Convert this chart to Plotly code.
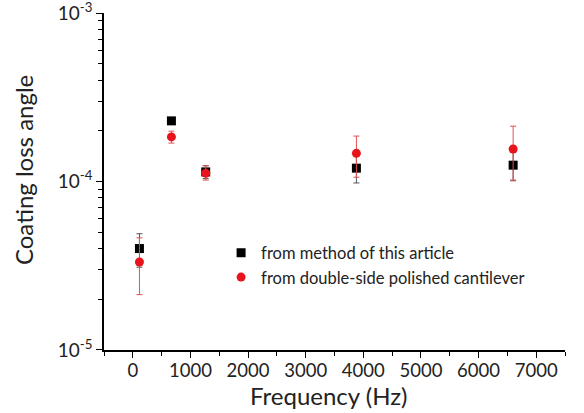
import plotly.graph_objects as go

# frecuencias (Hz) y ángulos de pérdida
freq_metodo = [115, 670, 1265, 3880, 6600]
perdida_metodo = [4.0e-5, 2.29e-4, 1.14e-4, 1.20e-4, 1.25e-4]
err_metodo = [0.9e-5, 0.0, 0.1e-4, 0.22e-4, 0.24e-4]

freq_cantilever = [115, 670, 1265, 3880, 6600]
perdida_cantilever = [3.33e-5, 1.84e-4, 1.12e-4, 1.47e-4, 1.56e-4]
err_cant_sup = [1.3e-5, 0.15e-4, 0.12e-4, 0.39e-4, 0.57e-4]
err_cant_inf = [1.2e-5, 0.15e-4, 0.10e-4, 0.41e-4, 0.54e-4]

y_ticks = [1e-5, 1e-4, 1e-3]
y_tick_text = ["10<sup>-5</sup>", "10<sup>-4</sup>", "10<sup>-3</sup>"]
y_minor = [m * 10.0 ** e for e in (-5, -4) for m in range(2, 10)]
x_ticks = [0, 1000, 2000, 3000, 4000, 5000, 6000, 7000]

FUENTE = "Lato, 'Open Sans', sans-serif"

fig = go.Figure()

fig.add_trace(
    go.Scatter(
        x=freq_metodo,
        y=perdida_metodo,
        mode="markers",
        name="from method of this article",
        marker=dict(symbol="square", size=9, color="black"),
        error_y=dict(type="data", array=err_metodo, color="#555555", thickness=1, width=3),
    )
)

fig.add_trace(
    go.Scatter(
        x=freq_cantilever,
        y=perdida_cantilever,
        mode="markers",
        name="from double-side polished cantilever",
        marker=dict(symbol="circle", size=9, color="#e8141c"),
        error_y=dict(
            type="data",
            symmetric=False,
            array=err_cant_sup,
            arrayminus=err_cant_inf,
            color="#e35050",
            thickness=1,
            width=3,
        ),
    )
)

fig.update_layout(
    width=584,
    height=413,
    margin=dict(l=104, r=19, t=13, b=63),
    plot_bgcolor="white",
    paper_bgcolor="white",
    font=dict(family=FUENTE, size=17, color="#222222"),
    legend=dict(
        x=0.254,
        y=0.34,
        xanchor="left",
        yanchor="top",
        bgcolor="rgba(0,0,0,0)",
        font=dict(size=16.5, color="#222222"),
        itemwidth=30,
        tracegroupgap=0,
    ),
)

fig.update_xaxes(
    range=[-500, 7500],
    tickvals=x_ticks,
    showline=True,
    linecolor="black",
    linewidth=1.5,
    ticks="outside",
    ticklen=6,
    tickcolor="black",
    showgrid=False,
    zeroline=False,
    automargin=False,
    ticklabeloverflow="allow",
    ticklabelstandoff=-3,
    minor=dict(tickvals=[-500, 500, 1500, 2500, 3500, 4500, 5500, 6500, 7500],
               ticks="outside", ticklen=4, tickcolor="black"),
    tickfont=dict(size=18.5),
)

fig.update_yaxes(
    type="log",
    range=[-5.0001, -2.9999],
    tickvals=y_ticks,
    ticktext=y_tick_text,
    showline=True,
    linecolor="black",
    linewidth=1.5,
    ticks="outside",
    ticklen=6,
    tickcolor="black",
    showgrid=False,
    zeroline=False,
    automargin=False,
    ticklabeloverflow="allow",
    minor=dict(tickvals=y_minor, ticks="outside", ticklen=4, tickcolor="black"),
    tickfont=dict(size=19),
)

# títulos de los ejes como anotaciones para ubicarlos igual que en la original
fig.add_annotation(
    text="Frequency (Hz)",
    xref="paper", yref="paper",
    x=0.486, y=0,
    xanchor="center", yanchor="middle",
    yshift=-45,
    showarrow=False,
    font=dict(size=24, color="#222222"),
)
fig.add_annotation(
    text="Coating loss angle",
    xref="paper", yref="paper",
    x=0, y=0.534,
    xanchor="center", yanchor="middle",
    xshift=-81,
    textangle=-90,
    showarrow=False,
    font=dict(size=24, color="#222222"),
)

# sacamos el margen por defecto del body para que la figura quede en (0, 0)
fig.write_html(
    "out.html",
    config={"displayModeBar": False},
    post_script="document.body.style.margin = '0';",
)
